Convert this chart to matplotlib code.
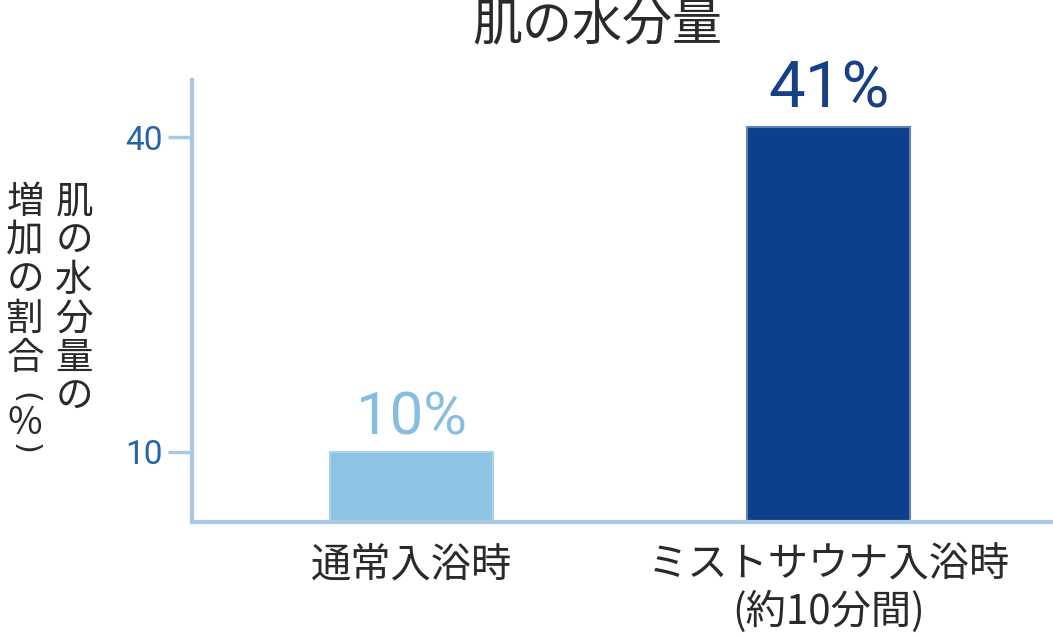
import numpy as np
import matplotlib
matplotlib.use('Agg')
import matplotlib.pyplot as plt

plt.rcParams['font.family'] = ['Noto Sans CJK JP', 'DejaVu Sans']

# データ
categories = ['通常入浴時', 'ミストサウナ入浴時\n(約10分間)']
values = [10, 41]
value_labels = ['10%', '41%']
yticks = [10, 40]
title = '肌の水分量'
ylabel_right = '肌の水分量の'
ylabel_left = ['増', '加', 'の', '割', '合', '(', '%', ')']

# 色
bar_colors = ['#8dc4e4', '#0e3f8b']
bar_edges = ['#a8d3ec', '#5f82b8']
label_colors = ['#86bde0', '#173f86']
axis_color = '#a9c8e3'
tick_color = '#2563ad'
text_color = '#2a2a2a'

W, H = 1053, 637
fig = plt.figure(figsize=(W / 100, H / 100), dpi=100)
ax = fig.add_axes([192 / W, (H - 522) / H, 1 - 192 / W, (522 - 80) / H])

x = np.arange(len(categories))
for i in range(len(values)):
    ax.bar(x[i], values[i], width=0.39, color=bar_colors[i],
           edgecolor=bar_edges[i], linewidth=1.5, zorder=1)

ax.set_ylim(10 - 70 / 10.5, 40 + 57 / 10.5)
ax.set_xlim(-0.524, 1.536)

# 棒の上の値
sizes = [43, 47]
for i in range(len(values)):
    ax.annotate(value_labels[i], (x[i], values[i]), xytext=(0, 4),
                textcoords='offset points', ha='center', va='bottom',
                fontsize=sizes[i], color=label_colors[i],
                family=['Roboto'])

for s in ['top', 'right']:
    ax.spines[s].set_visible(False)
for s in ['left', 'bottom']:
    ax.spines[s].set_color(axis_color)
    ax.spines[s].set_linewidth(3)

ax.set_yticks(yticks)
ax.set_yticklabels([str(t) for t in yticks], family=['Roboto'],
                   fontsize=24, color=tick_color)
ax.tick_params(axis='y', length=17, width=2.5, color=axis_color, pad=4)

ax.set_xticks(x)
ax.set_xticklabels(categories, fontsize=29, color=text_color, linespacing=1.15)
ax.tick_params(axis='x', length=0, pad=16)

# タイトル
fig.text(597 / W, 1 - 26 / H, title, ha='center', va='center',
         fontsize=36, color=text_color)

# 縦書きの軸ラベル
step = 39
y0 = 202
for i, ch in enumerate(ylabel_right):
    fig.text(74 / W, 1 - (y0 + i * step) / H, ch, ha='center', va='center',
             fontsize=27, color=text_color)
ys = [y0 + i * step for i in range(5)] + [398, 423, 449]
for ch, yy in zip(ylabel_left, ys):
    if ch in '()':
        fig.text(25 / W, 1 - yy / H, ch, ha='center', va='center',
                 fontsize=22, color=text_color, rotation=-90,
                 family=['DejaVu Sans'])
    else:
        fig.text(25 / W, 1 - yy / H, ch, ha='center', va='center',
                 fontsize=27, color=text_color)

fig.savefig('out.png', dpi=100)
